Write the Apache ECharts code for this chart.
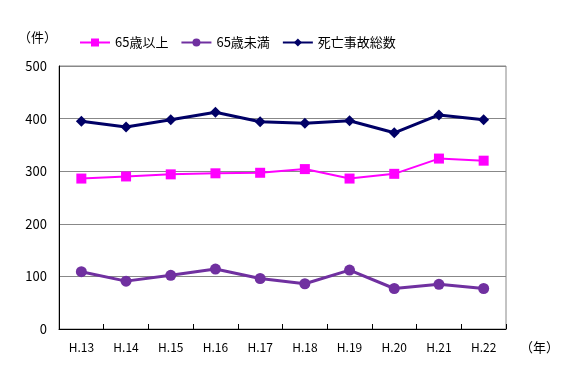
<!DOCTYPE html>
<html><head><meta charset="utf-8">
<script src="https://cdn.jsdelivr.net/npm/echarts@6/dist/echarts.min.js"></script>
<style>html,body{margin:0;padding:0;background:#fff}#c{width:569px;height:380px}</style>
</head><body><div id="c"></div>
<script>
const categories = ['H.13','H.14','H.15','H.16','H.17','H.18','H.19','H.20','H.21','H.22'];
const over65 = [286,290,294,296,297,304,286,295,324,320];
const under65 = [109,91,102,114,96,86,112,77,85,77];
const totalDeaths = [395,384,398,412,394,391,396,373,407,398];
const seriesNames = ['65歳以上','65歳未満','死亡事故総数'];
const yTicks = [0,100,200,300,400,500];

const font = "'Noto Sans CJK JP','DejaVu Sans',sans-serif";
const chart = echarts.init(document.getElementById('c'));
chart.setOption({
  animation:false,
  textStyle:{fontFamily:font},
  grid:{left:59,right:63,top:66,bottom:51,show:true,borderColor:'#888',borderWidth:1},
  legend:{top:31,left:74,itemWidth:30,itemHeight:10,itemGap:12,
    textStyle:{fontSize:13,color:'#000',fontFamily:font},
    data:seriesNames},
  graphic:[
    {type:'text',left:18,top:31,style:{text:'（件）',fontSize:13,fill:'#000',fontFamily:font}},
    {type:'text',left:520,top:341,style:{text:'（年）',fontSize:13,fill:'#000',fontFamily:font}}
  ],
  xAxis:{type:'category',data:categories,boundaryGap:true,
    axisLine:{lineStyle:{color:'#000'}},
    axisTick:{show:true,inside:true,length:5,lineStyle:{color:'#000'}},
    axisLabel:{color:'#000',fontSize:12,margin:12,fontFamily:font}},
  yAxis:{type:'value',min:yTicks[0],max:yTicks[yTicks.length-1],interval:100,
    axisLine:{show:true,lineStyle:{color:'#000'}},
    axisTick:{show:false},
    axisLabel:{color:'#000',fontSize:13,margin:12,fontFamily:font},
    splitLine:{lineStyle:{color:'#888'}}},
  series:[
    {name:seriesNames[0],type:'line',data:over65,symbol:'rect',symbolSize:10,
      lineStyle:{color:'#FF00FF',width:2},itemStyle:{color:'#FF00FF'}},
    {name:seriesNames[1],type:'line',data:under65,symbol:'circle',symbolSize:11,
      lineStyle:{color:'#7030A0',width:3},itemStyle:{color:'#7030A0'}},
    {name:seriesNames[2],type:'line',data:totalDeaths,symbol:'diamond',symbolSize:11,
      lineStyle:{color:'#000066',width:3},itemStyle:{color:'#000066'}}
  ]
});
</script></body></html>
